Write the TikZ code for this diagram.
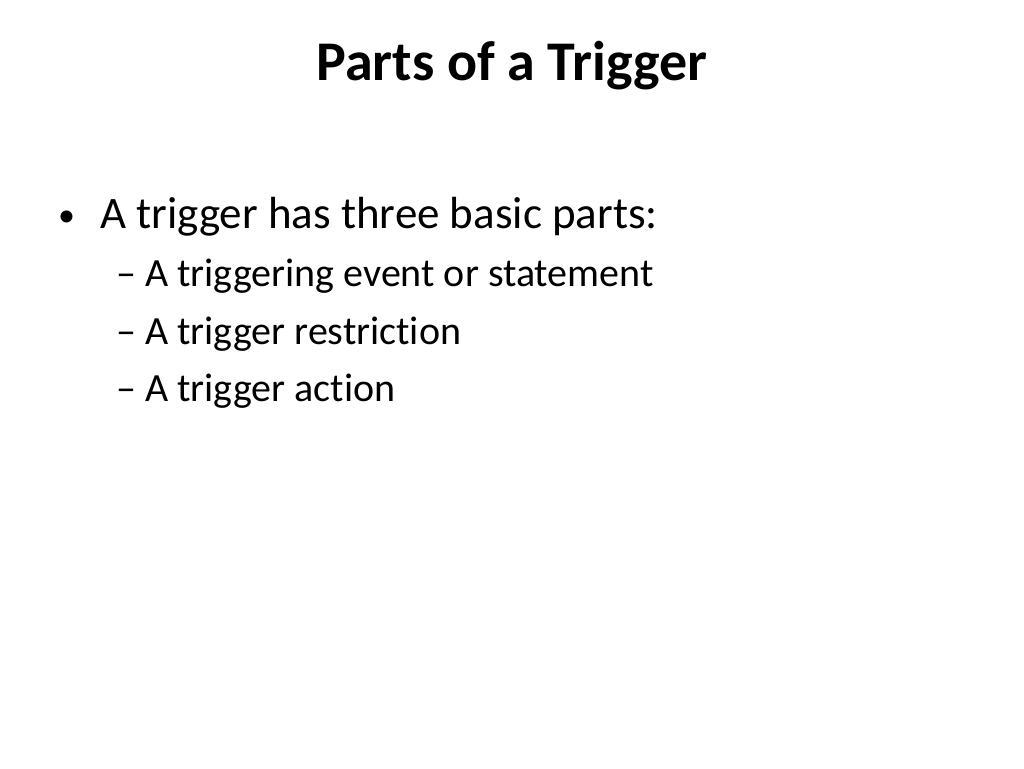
\documentclass[tikz,border=0pt]{standalone}
\usepackage{fontspec}
\setmainfont[Ligatures=NoCommon]{Carlito}
\begin{document}
\begin{tikzpicture}[x=1pt,y=-1pt,
  txt/.style={anchor=base west,inner sep=0pt,text=black},
  big/.style={font=\fontsize{45}{50}\selectfont},
  small/.style={font=\fontsize{40}{46}\selectfont}]
\useasboundingbox[fill=white] (0,0) rectangle (1024,768);
\node[anchor=base,inner sep=0pt,font=\fontsize{56}{60}\selectfont\bfseries] (title) at (512,80) {Parts of a Trigger};
\node[txt,font=\fontsize{34}{40}\selectfont] (b) at (58,226) {•};
\node[txt,big] (l1) at (100,228) {A trigger has three basic parts:};
\node[txt,small] (d1) at (116,286) {–};
\node[txt,small] (s1) at (145,286) {A triggering event or statement};
\node[txt,small] (d2) at (116,344) {–};
\node[txt,small] (s2) at (145,344) {A trigger restriction};
\node[txt,small] (d3) at (116,401) {–};
\node[txt,small] (s3) at (145,401) {A trigger action};
\end{tikzpicture}
\end{document}
